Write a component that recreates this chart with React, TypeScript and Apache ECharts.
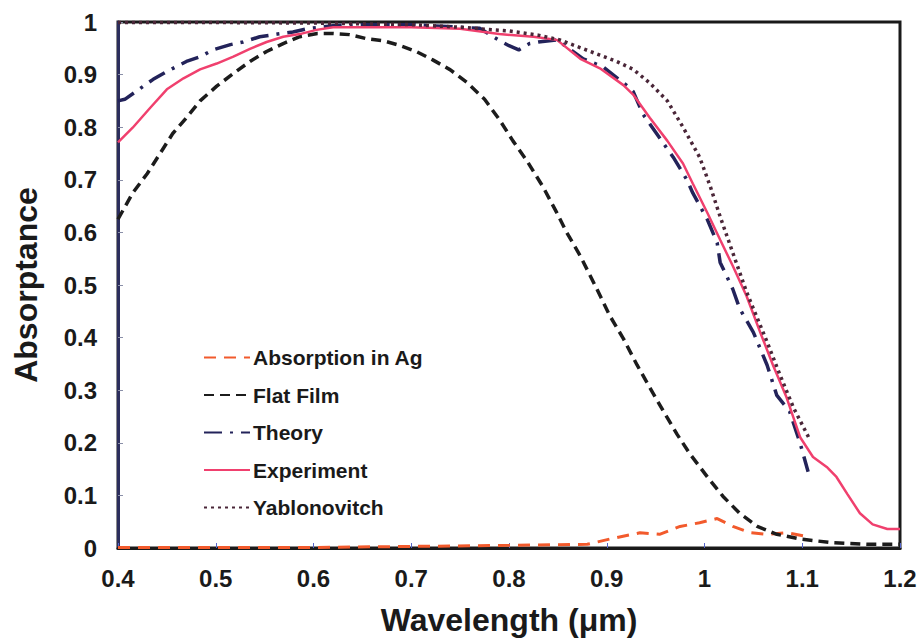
import React, { useEffect, useRef } from "react";
import * as echarts from "echarts";

const xTicks = { min: 0.4, max: 1.2, interval: 0.1 };
const yTicks = { min: 0, max: 1, interval: 0.1 };

const agX = [0.4, 0.5, 0.6, 0.7, 0.8, 0.88, 0.903, 0.934, 0.954, 0.975, 0.995, 1.013, 1.029, 1.047, 1.064, 1.084, 1.105];
const agY = [0.001, 0.001, 0.001, 0.003, 0.005, 0.007, 0.017, 0.029, 0.026, 0.041, 0.048, 0.056, 0.041, 0.029, 0.026, 0.029, 0.022];

const flatX = [0.4, 0.415, 0.43, 0.443, 0.456, 0.47, 0.484, 0.501, 0.518, 0.535, 0.552, 0.569, 0.586, 0.604, 0.62, 0.637, 0.655, 0.672, 0.689, 0.705, 0.722, 0.74, 0.757, 0.775, 0.79, 0.804, 0.818, 0.835, 0.849, 0.859, 0.873, 0.89, 0.903, 0.917, 0.931, 0.944, 0.958, 0.972, 0.985, 1.003, 1.019, 1.036, 1.054, 1.074, 1.098, 1.131, 1.166, 1.2];
const flatY = [0.625, 0.675, 0.712, 0.75, 0.788, 0.818, 0.85, 0.878, 0.902, 0.925, 0.944, 0.959, 0.972, 0.978, 0.978, 0.976, 0.968, 0.964, 0.955, 0.944, 0.928, 0.909, 0.885, 0.853, 0.815, 0.774, 0.737, 0.686, 0.637, 0.6, 0.555, 0.492, 0.442, 0.398, 0.348, 0.305, 0.26, 0.216, 0.179, 0.135, 0.098, 0.066, 0.041, 0.026, 0.017, 0.01, 0.007, 0.007];

const theoryX = [0.4, 0.407, 0.436, 0.45, 0.47, 0.484, 0.497, 0.515, 0.528, 0.545, 0.563, 0.579, 0.593, 0.62, 0.65, 0.7, 0.75, 0.77, 0.79, 0.8, 0.81, 0.821, 0.83, 0.849, 0.876, 0.896, 0.92, 0.927, 0.937, 0.954, 0.968, 0.982, 0.988, 1.003, 1.013, 1.016, 1.029, 1.036, 1.05, 1.064, 1.074, 1.087, 1.098, 1.106];
const theoryY = [0.85, 0.853, 0.891, 0.906, 0.925, 0.934, 0.947, 0.957, 0.962, 0.972, 0.977, 0.981, 0.987, 0.993, 0.995, 0.995, 0.99, 0.988, 0.965, 0.955, 0.947, 0.959, 0.962, 0.966, 0.93, 0.915, 0.88, 0.868, 0.825, 0.78, 0.743, 0.7, 0.675, 0.624, 0.58, 0.543, 0.492, 0.455, 0.41, 0.348, 0.29, 0.26, 0.198, 0.145];

const expX = [0.4, 0.415, 0.433, 0.45, 0.467, 0.484, 0.501, 0.518, 0.535, 0.552, 0.569, 0.586, 0.603, 0.62, 0.7, 0.75, 0.79, 0.825, 0.849, 0.873, 0.893, 0.917, 0.927, 0.944, 0.962, 0.978, 0.988, 1.003, 1.016, 1.029, 1.043, 1.057, 1.07, 1.084, 1.098, 1.111, 1.125, 1.135, 1.146, 1.159, 1.172, 1.187, 1.2];
const expY = [0.771, 0.799, 0.837, 0.872, 0.893, 0.91, 0.921, 0.934, 0.949, 0.962, 0.972, 0.977, 0.985, 0.99, 0.99, 0.987, 0.977, 0.972, 0.966, 0.93, 0.912, 0.88, 0.862, 0.818, 0.774, 0.731, 0.693, 0.637, 0.586, 0.536, 0.479, 0.41, 0.348, 0.286, 0.21, 0.173, 0.154, 0.135, 0.103, 0.066, 0.045, 0.036, 0.036];

const yabX = [0.4, 0.5, 0.6, 0.7, 0.75, 0.8, 0.83, 0.852, 0.876, 0.893, 0.91, 0.927, 0.944, 0.962, 0.978, 0.995, 1.006, 1.016, 1.029, 1.043, 1.05, 1.064, 1.077, 1.091, 1.108];
const yabY = [0.999, 0.999, 0.998, 0.995, 0.99, 0.983, 0.975, 0.966, 0.949, 0.937, 0.925, 0.91, 0.884, 0.85, 0.8, 0.743, 0.687, 0.63, 0.561, 0.487, 0.455, 0.392, 0.33, 0.267, 0.205];

const pairs = (xs: number[], ys: number[]) => xs.map((x, i) => [x, ys[i]]);

const FONT = "'Liberation Sans', Arial, sans-serif";

export default function App() {
  const ref = useRef<HTMLDivElement>(null);
  useEffect(() => {
    if (!ref.current) return;
    const chart = echarts.init(ref.current, null, { renderer: "svg" });
    const lineSeries = (name: string, xs: number[], ys: number[], color: string, width: number, type: any) => ({
      name,
      type: "line",
      data: pairs(xs, ys),
      showSymbol: false,
      symbol: "none",
      smooth: false,
      lineStyle: { color, width, type },
      itemStyle: { color },
    });
    chart.setOption({
      animation: false,
      backgroundColor: "#ffffff",
      textStyle: { fontFamily: FONT },
      grid: {
        left: 118,
        right: 20,
        top: 22,
        bottom: 89,
        show: true,
        borderColor: "#1a1a1a",
        borderWidth: 3,
        backgroundColor: "transparent",
      },
      legend: {
        orient: "vertical",
        left: 198,
        top: 342,
        itemWidth: 46,
        itemHeight: 14,
        itemGap: 16.5,
        itemStyle: { opacity: 0, borderWidth: 0 },
        textStyle: { fontFamily: FONT, fontWeight: "bold", fontSize: 21, color: "#1a1a1a", padding: [0, 0, 0, -2] },
        data: ["Absorption in Ag", "Flat Film", "Theory", "Experiment", "Yablonovitch"],
      },
      xAxis: {
        type: "value",
        min: xTicks.min,
        max: xTicks.max,
        interval: xTicks.interval,
        name: "Wavelength (μm)",
        nameLocation: "middle",
        nameGap: 56,
        nameTextStyle: { fontFamily: FONT, fontWeight: "bold", fontSize: 32, color: "#1a1a1a" },
        axisLine: { show: true, lineStyle: { color: "#1a1a1a", width: 3 } },
        axisTick: { show: true, inside: true, length: 5, lineStyle: { color: "#5566cc", width: 1 } },
        axisLabel: { fontFamily: FONT, fontWeight: "bold", fontSize: 24, color: "#1a1a1a", margin: 18 },
        splitLine: { show: false },
      },
      yAxis: {
        type: "value",
        min: yTicks.min,
        max: yTicks.max,
        interval: yTicks.interval,
        name: "Absorptance",
        nameLocation: "middle",
        nameGap: 76,
        nameTextStyle: { fontFamily: FONT, fontWeight: "bold", fontSize: 32, color: "#1a1a1a" },
        axisLine: { show: true, lineStyle: { color: "#2b2d5c", width: 3 } },
        axisTick: { show: true, inside: true, length: 5, lineStyle: { color: "#8a8fa8", width: 1 } },
        axisLabel: { fontFamily: FONT, fontWeight: "bold", fontSize: 24, color: "#1a1a1a", margin: 21 },
        splitLine: { show: false },
      },
      series: [
        lineSeries("Absorption in Ag", agX, agY, "#f25a2c", 3, [12, 8]),
        lineSeries("Flat Film", flatX, flatY, "#1c1c1c", 3.5, [10, 6]),
        lineSeries("Theory", theoryX, theoryY, "#23235a", 3.5, [18, 8, 3, 8]),
        lineSeries("Experiment", expX, expY, "#f0406e", 2.5, "solid"),
        lineSeries("Yablonovitch", yabX, yabY, "#4a2638", 3.5, [3, 4]),
      ],
    });
    return () => chart.dispose();
  }, []);
  return (
    <div
      ref={ref}
      style={{ position: "fixed", left: 0, top: 0, width: 920, height: 641, background: "#fff" }}
    />
  );
}
